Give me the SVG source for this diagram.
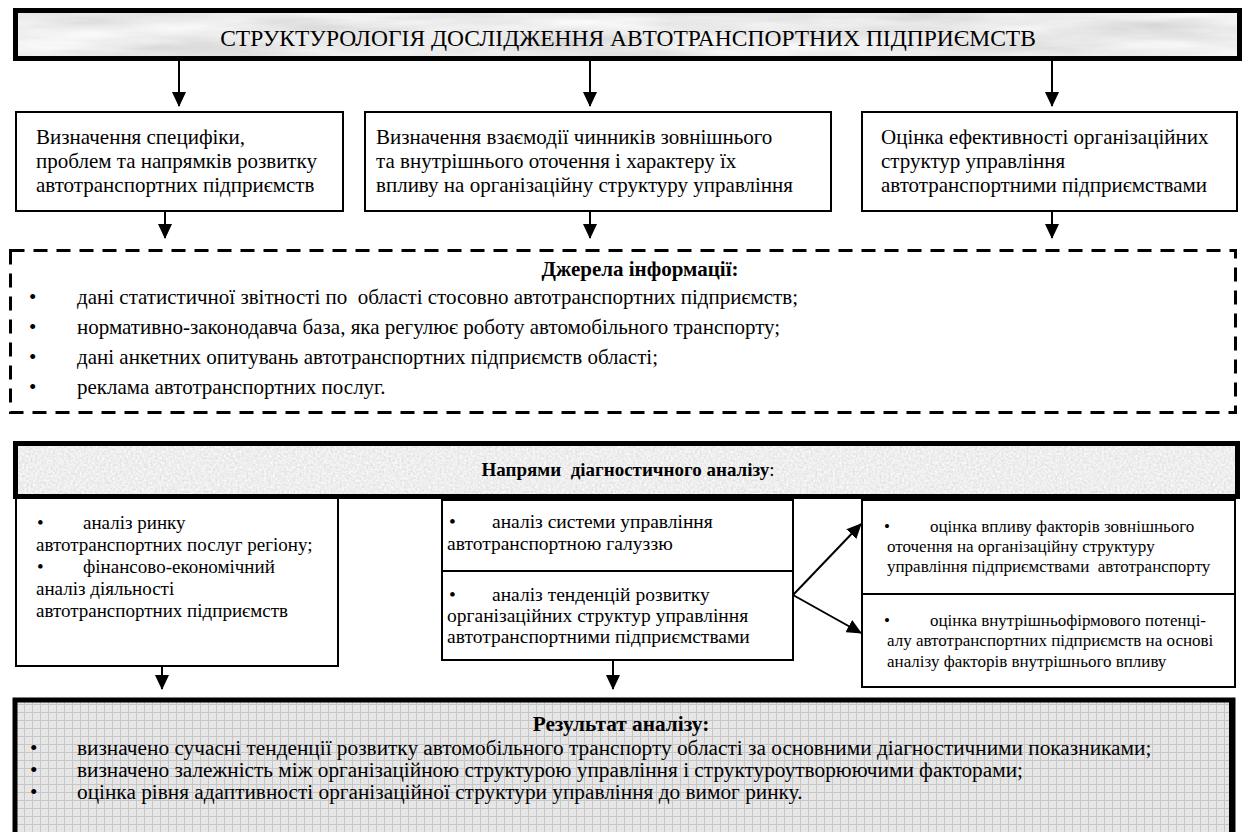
<svg xmlns="http://www.w3.org/2000/svg" width="1250" height="832" viewBox="0 0 1250 832" font-family="'Liberation Serif', 'Times New Roman', serif">
<style>
text{font-family:'Liberation Serif','Times New Roman',serif;fill:#000}
.t21{font-size:21px}
.t213{font-size:21.3px}
.t195{font-size:19.5px}
.t19{font-size:19px}
.t17{font-size:17px}
.b{font-weight:bold}
.box{fill:#fff;stroke:#000;stroke-width:2}
.bar{fill:none;stroke:#000;stroke-width:5}
.conn line{stroke:#000;stroke-width:2;marker-end:url(#ah)}
</style>
<defs>
<marker id="ah" markerWidth="15" markerHeight="14" refX="14" refY="7" orient="auto" markerUnits="userSpaceOnUse">
<path d="M0,0 L15,7 L0,14 z" fill="#000"/>
</marker>
<filter id="marble" x="0" y="0" width="1" height="1">
<feTurbulence type="fractalNoise" baseFrequency="0.006 0.05" numOctaves="4" seed="7"/>
<feColorMatrix type="matrix" values="0.45 0 0 0 0.6  0.45 0 0 0 0.6  0.45 0 0 0 0.6  0 0 0 0 1"/>
</filter>
<filter id="speck" x="0" y="0" width="1" height="1">
<feTurbulence type="fractalNoise" baseFrequency="0.45" numOctaves="2" seed="3"/>
<feColorMatrix type="matrix" values="0.35 0 0 0 0.68  0.35 0 0 0 0.68  0.35 0 0 0 0.68  0 0 0 0 1"/>
</filter>
<pattern id="grid" width="8" height="8" patternUnits="userSpaceOnUse">
<rect width="8" height="8" fill="#e6e6e6"/>
<path d="M0,0.5 H8 M0.5,0 V8" stroke="#c6c6c6" stroke-width="1"/>
</pattern>
</defs>

<g id="title">
<rect x="15.5" y="10.5" width="1224" height="48" fill="#ccc" filter="url(#marble)"/>
<rect x="15.5" y="10.5" width="1224" height="48" class="bar"/>
<text x="628" y="46" text-anchor="middle" style="font-size:23.5px">СТРУКТУРОЛОГІЯ ДОСЛІДЖЕННЯ АВТОТРАНСПОРТНИХ ПІДПРИЄМСТВ</text>
</g>

<g id="box-specifics">
<rect x="16" y="112" width="327" height="99" class="box"/>
<text class="t21"><tspan x="36" y="144">Визначення специфіки,</tspan><tspan x="36" y="168">проблем та напрямків розвитку</tspan><tspan x="36" y="192">автотранспортних підприємств</tspan></text>
</g>

<g id="box-interaction">
<rect x="365" y="112" width="466" height="99" class="box"/>
<text class="t21"><tspan x="376" y="144">Визначення взаємодії чинників зовнішнього</tspan><tspan x="376" y="168">та внутрішнього оточення і характеру їх</tspan><tspan x="376" y="192">впливу на організаційну структуру управління</tspan></text>
</g>

<g id="box-efficiency">
<rect x="862" y="112" width="375" height="99" class="box"/>
<text class="t21"><tspan x="881" y="144">Оцінка ефективності організаційних</tspan><tspan x="881" y="168">структур управління</tspan><tspan x="881" y="192">автотранспортними підприємствами</tspan></text>
</g>

<g id="sources">
<rect x="10.5" y="250.5" width="1225" height="162" fill="#fff" stroke="#000" stroke-width="3" stroke-dasharray="14 9"/>
<text class="t21 b" x="640" y="276" text-anchor="middle">Джерела інформації:</text>
<g class="t21">
<text x="29" y="304">•</text><text x="77" y="304" xml:space="preserve">дані статистичної звітності по  області стосовно автотранспортних підприємств;</text>
<text x="29" y="334">•</text><text x="77" y="334">нормативно-законодавча база, яка регулює роботу автомобільного транспорту;</text>
<text x="29" y="364">•</text><text x="77" y="364">дані анкетних опитувань автотранспортних підприємств області;</text>
<text x="29" y="394">•</text><text x="77" y="394">реклама автотранспортних послуг.</text>
</g>
</g>

<g id="directions">
<rect x="15.5" y="443.5" width="1222" height="53" fill="#ddd" filter="url(#speck)"/>
<rect x="15.5" y="443.5" width="1222" height="53" class="bar"/>
<text class="t19" x="628" y="476" text-anchor="middle" xml:space="preserve"><tspan class="b">Напрями  діагностичного аналізу</tspan>:</text>
</g>

<g id="box-market">
<rect x="16" y="498" width="322" height="168" class="box"/>
<text class="t19"><tspan x="37" y="529">•</tspan><tspan x="83" y="529">аналіз ринку</tspan><tspan x="36" y="551">автотранспортних послуг регіону;</tspan><tspan x="37" y="573">•</tspan><tspan x="83" y="573">фінансово-економічний</tspan><tspan x="36" y="595">аналіз діяльності</tspan><tspan x="36" y="617">автотранспортних підприємств</tspan></text>
</g>

<g id="box-system">
<rect x="442" y="500" width="351" height="71" class="box"/>
<text class="t195"><tspan x="449" y="528">•</tspan><tspan x="492" y="528">аналіз системи управління</tspan><tspan x="447" y="550">автотранспортною галуззю</tspan></text>
</g>

<g id="box-trends">
<rect x="442" y="571" width="351" height="89" class="box"/>
<text class="t195"><tspan x="449" y="601">•</tspan><tspan x="492" y="601">аналіз тенденцій розвитку</tspan><tspan x="447" y="622">організаційних структур управління</tspan><tspan x="447" y="643">автотранспортними підприємствами</tspan></text>
</g>

<g id="box-external">
<rect x="862" y="500" width="373" height="94" class="box"/>
<text class="t17"><tspan x="884" y="532">•</tspan><tspan x="930" y="532">оцінка впливу факторів зовнішнього</tspan><tspan x="887" y="552">оточення на організаційну структуру</tspan><tspan x="887" y="572" xml:space="preserve">управління підприємствами  автотранспорту</tspan></text>
</g>

<g id="box-internal">
<rect x="862" y="594" width="373" height="93" class="box"/>
<text class="t17"><tspan x="884" y="626">•</tspan><tspan x="930" y="626">оцінка внутрішньофірмового потенці-</tspan><tspan x="887" y="646">алу автотранспортних підприємств на основі</tspan><tspan x="887" y="667">аналізу факторів внутрішнього впливу</tspan></text>
</g>

<g id="result">
<rect x="15" y="700" width="1218" height="140" fill="url(#grid)" stroke="#000" stroke-width="5"/>
<rect x="1229" y="700" width="6" height="140" fill="#000"/>
<text class="t213 b" x="621" y="731" text-anchor="middle">Результат аналізу:</text>
<g class="t213">
<text x="30" y="755">•</text><text x="77" y="755">визначено сучасні тенденції розвитку автомобільного транспорту області за основними діагностичними показниками;</text>
<text x="30" y="777">•</text><text x="77" y="777">визначено залежність між організаційною структурою управління і структуроутворюючими факторами;</text>
<text x="30" y="799">•</text><text x="77" y="799">оцінка рівня адаптивності організаційної структури управління до вимог ринку.</text>
</g>
</g>

<g id="connectors" class="conn">
<line x1="179" y1="61" x2="179" y2="106"/>
<line x1="590" y1="61" x2="590" y2="106"/>
<line x1="1052" y1="61" x2="1052" y2="106"/>
<line x1="165" y1="211" x2="165" y2="238"/>
<line x1="590" y1="211" x2="590" y2="238"/>
<line x1="1052" y1="211" x2="1052" y2="238"/>
<line x1="793" y1="595" x2="861" y2="524"/>
<line x1="793" y1="595" x2="861" y2="633"/>
<line x1="162" y1="666" x2="162" y2="689"/>
<line x1="613" y1="660" x2="613" y2="689"/>
</g>
</svg>
